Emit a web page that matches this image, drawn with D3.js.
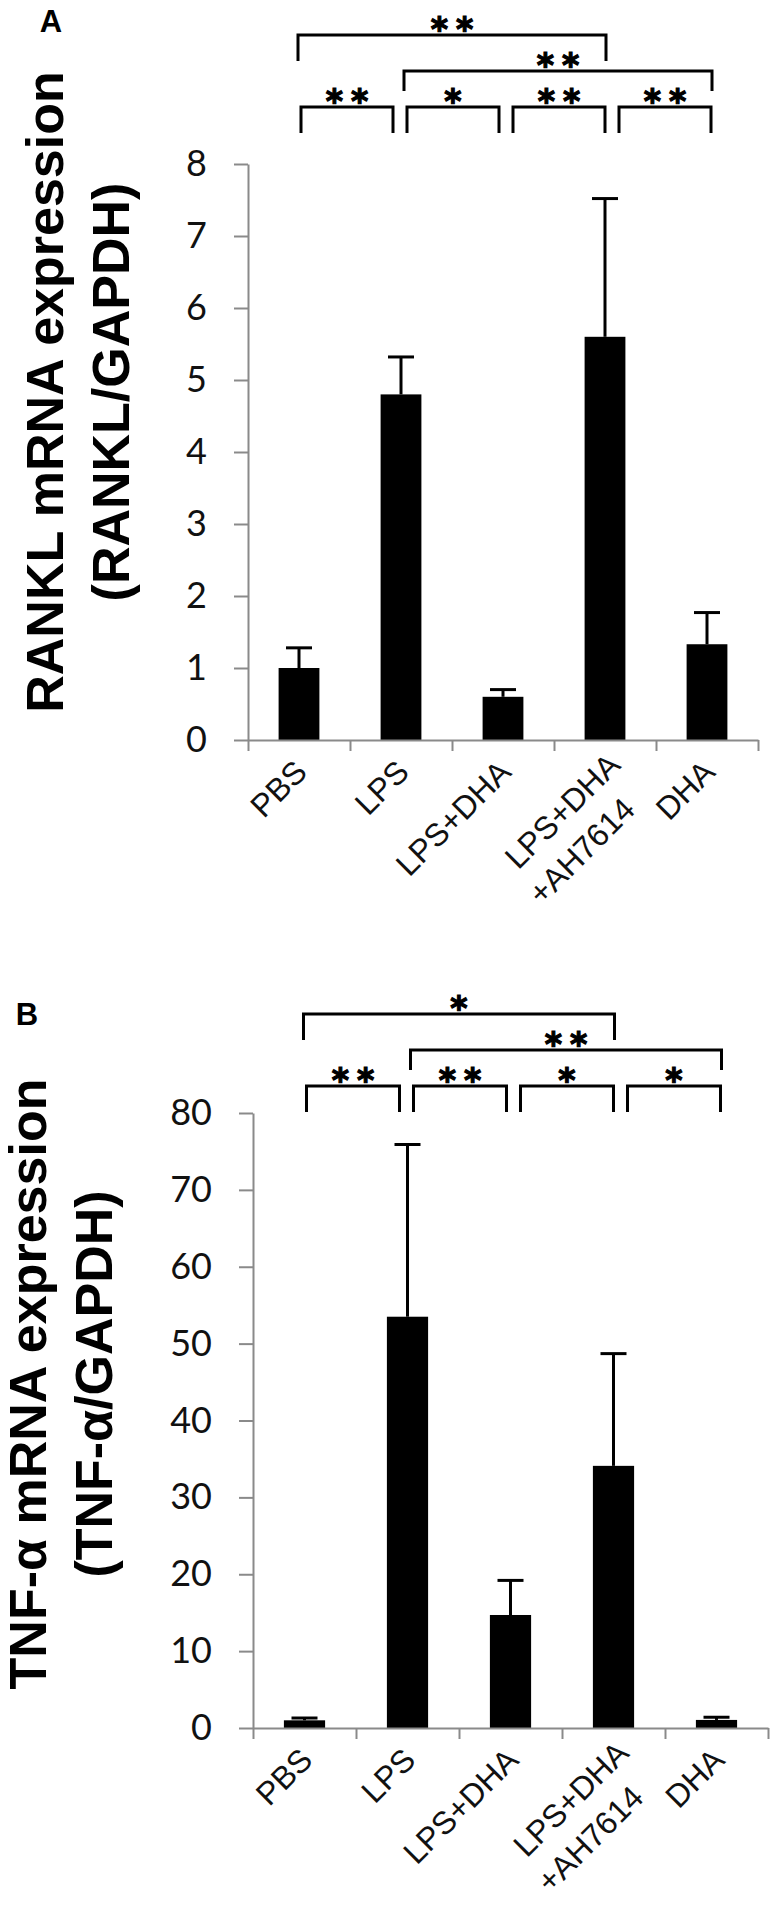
<!DOCTYPE html>
<html>
<head>
<meta charset="utf-8">
<script src="https://cdn.jsdelivr.net/npm/d3@7/dist/d3.min.js"></script>
<style>
  body { margin: 0; background: #fff; }
  svg { display: block; }
</style>
</head>
<body>
<svg id="chart" width="778" height="1905"></svg>
<script>
'use strict';
var categories = ['PBS', 'LPS', 'LPS+DHA', 'LPS+DHA\n+AH7614', 'DHA'];

var ranklMean = [1.0, 4.8, 0.6, 5.6, 1.33];
var ranklErr = [0.28, 0.52, 0.1, 1.92, 0.44];
var ranklTicks = [0, 1, 2, 3, 4, 5, 6, 7, 8];
// [from, to, level, label]
var ranklSig = [[0, 1, 0, '**'], [1, 2, 0, '*'], [2, 3, 0, '**'], [3, 4, 0, '**'], [1, 4, 1, '**'], [0, 3, 2, '**']];

var tnfMean = [1.0, 53.5, 14.7, 34.1, 1.05];
var tnfErr = [0.3, 22.4, 4.5, 14.6, 0.35];
var tnfTicks = [0, 10, 20, 30, 40, 50, 60, 70, 80];
var tnfSig = [[0, 1, 0, '**'], [1, 2, 0, '**'], [2, 3, 0, '*'], [3, 4, 0, '*'], [1, 4, 1, '**'], [0, 3, 2, '*']];

var svg = d3.select('#chart');
var axisColor = '#8a8a8a';

function drawPanel(p) {
  var g = svg.append('g');
  var y = d3.scaleLinear().domain([0, p.ticks[p.ticks.length - 1]]).range([p.bottom, p.top]);
  var x = d3.scaleBand().domain(d3.range(categories.length)).range([p.left, p.right])
    .paddingInner(0.6).paddingOuter(0.3);
  var xEdge = d3.scaleLinear().domain([0, categories.length]).range([p.left, p.right]);
  var cx = function (i) { return x(i) + x.bandwidth() / 2; };
  // annotation brackets sit on a slightly wider spread than the bars
  var xa = d3.scalePoint().domain(d3.range(categories.length)).range([cx(0) - 5, cx(categories.length - 1) + 11]);

  // panel letter
  g.append('text').attr('x', p.letterX).attr('y', p.letterY + 11)
    .attr('text-anchor', 'middle').style('font', 'bold 31px "Liberation Sans", Arial, sans-serif')
    .text(p.letter);

  // y title
  p.title.forEach(function (line, i) {
    g.append('text')
      .attr('transform', 'translate(' + p.titleX[i] + ',' + p.titleY + ') rotate(-90)')
      .attr('text-anchor', 'middle')
      .style('font', 'bold 52px "Liberation Sans", Arial, sans-serif')
      .text(line);
  });

  // bars
  g.selectAll('rect.bar').data(p.mean).enter().append('rect')
    .attr('x', function (d, i) { return x(i); })
    .attr('y', function (d) { return y(d); })
    .attr('width', x.bandwidth())
    .attr('height', function (d) { return y(0) - y(d); })
    .style('fill', '#000');

  // error bars (upper only)
  p.mean.forEach(function (d, i) {
    var top = y(d + p.err[i]);
    g.append('line').attr('x1', cx(i)).attr('x2', cx(i)).attr('y1', y(d)).attr('y2', top)
      .style('stroke', '#000').style('stroke-width', 3);
    g.append('line').attr('x1', cx(i) - 13).attr('x2', cx(i) + 13).attr('y1', top).attr('y2', top)
      .style('stroke', '#000').style('stroke-width', 3);
  });

  // y axis
  var ya = g.append('g').attr('transform', 'translate(' + p.left + ',0)')
    .call(d3.axisLeft(y).tickValues(p.ticks).tickSize(14).tickSizeOuter(0).tickPadding(27));
  ya.selectAll('text').style('font', '36px Lato, "Open Sans", sans-serif').style('fill', '#111');

  // x axis with ticks on the category edges
  var xaG = g.append('g').attr('transform', 'translate(0,' + p.bottom + ')')
    .call(d3.axisBottom(xEdge).tickValues(d3.range(categories.length + 1)).tickSize(11).tickSizeOuter(0).tickFormat(''));
  [ya, xaG].forEach(function (a) {
    a.selectAll('.domain, .tick line').style('stroke', axisColor).style('stroke-width', 2);
  });

  // category labels, rotated
  categories.forEach(function (c, i) {
    var lines = c.split('\n');
    var t = g.append('text')
      .attr('transform', 'translate(' + (cx(i) + 2) + ',' + (p.bottom + 26) + ') rotate(-45)')
      .attr('text-anchor', 'end')
      .style('font', '32px "Liberation Sans", Arial, sans-serif')
      .style('fill', '#111');
    lines.forEach(function (l, j) {
      var shiftAlong = lines.length > 1 ? (j === 0 ? 10 : -11) : 0;
      t.append('tspan').attr('x', shiftAlong).attr('y', j * 42).attr('dy', '0.35em').text(l);
    });
  });

  // significance brackets
  var drops = [26, 20, 26];
  p.sig.forEach(function (s) {
    var small = s[2] === 0;
    var x1 = xa(s[0]) + (small ? 7 : 4);
    var x2 = xa(s[1]) - (small ? 7 : 6);
    var yb = p.sigBase - s[2] * 36;
    g.append('path')
      .attr('d', 'M' + x1 + ',' + (yb + drops[s[2]]) + 'V' + yb + 'H' + x2 + 'V' + (yb + drops[s[2]]))
      .style('fill', 'none').style('stroke', '#000').style('stroke-width', 3);
    g.append('text')
      .attr('x', (x1 + x2) / 2)
      .attr('dx', 4)
      .attr('y', yb - 12 + 18)
      .attr('text-anchor', 'middle')
      .style('font', 'bold 33px "DejaVu Sans", sans-serif')
      .style('letter-spacing', '8px')
      .style('stroke', '#000').style('stroke-width', 1.2)
      .text(s[3]);
  });
}

drawPanel({
  letter: 'A', letterX: 51, letterY: 21,
  title: ['RANKL mRNA expression', '(RANKL/GAPDH)'], titleX: [63, 129], titleY: 392,
  mean: ranklMean, err: ranklErr, ticks: ranklTicks, sig: ranklSig,
  left: 248, right: 758, top: 164, bottom: 740, sigBase: 107
});

drawPanel({
  letter: 'B', letterX: 27, letterY: 1014,
  title: ['TNF-α mRNA expression', '(TNF-α/GAPDH)'], titleX: [46, 112], titleY: 1384,
  mean: tnfMean, err: tnfErr, ticks: tnfTicks, sig: tnfSig,
  left: 253, right: 768, top: 1113, bottom: 1728, sigBase: 1086
});
</script>
</body>
</html>
